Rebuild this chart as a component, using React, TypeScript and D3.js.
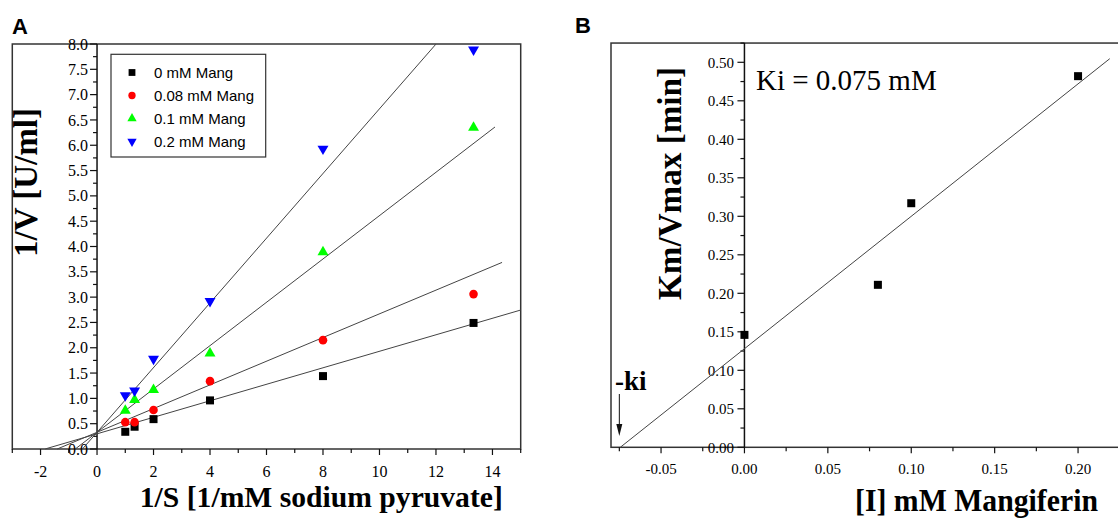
import React from "react";
import * as d3 from "d3";

// ---- panel A: Lineweaver-Burk plot ----
const invS = [1, 1.33, 2, 4, 8, 13.33];
const seriesNames = ["0 mM Mang", "0.08 mM Mang", "0.1 mM Mang", "0.2 mM Mang"];
const seriesColors = ["#000000", "#ff0000", "#00ff00", "#0000ff"];
const seriesShapes = ["square", "circle", "up", "down"];
const invV0 = [0.34, 0.44, 0.59, 0.96, 1.44, 2.49];
const invV008 = [0.53, 0.53, 0.77, 1.34, 2.15, 3.06];
const invV01 = [0.76, 0.97, 1.17, 1.89, 3.89, 6.35];
const invV02 = [1.06, 1.15, 1.78, 2.92, 5.93, 7.89];
const seriesValues = [invV0, invV008, invV01, invV02];
// fitted lines: intercept, slope, drawn x range
const fitIntercept = [0.3, 0.33, 0.33, 0.33];
const fitSlope = [0.163, 0.234, 0.428, 0.639];
const fitFrom = [-1.83, -1.41, -0.77, -0.52];
const fitTo = [15, 14.34, 14.09, 12.0];
const xTicksA = [-2, 0, 2, 4, 6, 8, 10, 12, 14];
const xMinorA = d3.range(-3, 15.5, 1);
const yTicksA = d3.range(0, 8.01, 0.5);
const yMinorA = d3.range(0, 8.01, 0.25);

// ---- panel B: secondary plot ----
const inhib = [0, 0.08, 0.1, 0.2];
const kmVmax = [0.146, 0.211, 0.317, 0.482];
const fitB = { intercept: 0.128, slope: 1.72, from: -0.0744, to: 0.219 };
const xTicksB = [-0.05, 0, 0.05, 0.1, 0.15, 0.2];
const xMinorB = [-0.075, -0.025, 0.025, 0.075, 0.125, 0.175, 0.225];
const yTicksB = d3.range(0, 0.501, 0.05);
const yMinorB = d3.range(0.025, 0.526, 0.05);

const serif = { fontFamily: "Liberation Serif, Times New Roman, serif" };
const sans = { fontFamily: "Liberation Sans, Arial, sans-serif" };

function Marker({ shape, color, x, y, s = 1 }: any) {
  if (shape === "square")
    return <rect x={x - 4 * s} y={y - 4 * s} width={8 * s} height={8 * s} fill={color} />;
  if (shape === "circle") return <circle cx={x} cy={y} r={4.3 * s} fill={color} />;
  const p = d3.symbol(d3.symbolTriangle, 52 * s * s)();
  return (
    <path d={p!} fill={color} transform={`translate(${x},${y})${shape === "down" ? " rotate(180)" : ""}`} />
  );
}

export default function App() {
  const xA = d3.scaleLinear().domain([-3, 15]).range([12.3, 520.7]);
  const yA = d3.scaleLinear().domain([0, 8]).range([449, 44]);
  const xB = d3.scaleLinear().domain([-0.08, 0.23]).range([611, 1128.1]);
  const yB = d3.scaleLinear().domain([0, 0.525]).range([447.3, 43.05]);
  const fmt1 = d3.format(".1f");
  const fmt2 = (v: number) => d3.format(".2f")(v).replace("\u2212", "-");
  const line = d3.line<[number, number]>();

  const x0A = xA(0);
  const x0B = xB(0);

  return (
    <svg width={1118} height={525} style={{ position: "absolute", left: 0, top: 0, background: "#fff" }}>
      {/* ---------- Panel A ---------- */}
      <text x={12} y={34} style={sans} fontWeight="bold" fontSize={22}>A</text>
      <rect x={xA(-3)} y={yA(8)} width={xA(15) - xA(-3)} height={yA(0) - yA(8)} fill="none" stroke="#333" strokeWidth={1.5} />
      <line x1={x0A} x2={x0A} y1={yA(0)} y2={yA(8)} stroke="#111" strokeWidth={1.5} />
      {xMinorA.map((t) => (
        <line key={"xm" + t} x1={xA(t)} x2={xA(t)} y1={yA(0)} y2={yA(0) + (t % 2 === 0 ? 6 : 4)} stroke="#111" strokeWidth={1.2} />
      ))}
      {xTicksA.map((t) => (
        <text key={"xt" + t} x={xA(t)} y={477} textAnchor="middle" style={serif} fontSize={16}>{t}</text>
      ))}
      {yMinorA.map((t) => (
        <line key={"ym" + t} x1={x0A} x2={x0A - (Math.round(t * 4) % 2 === 0 ? 7 : 4)} y1={yA(t)} y2={yA(t)} stroke="#111" strokeWidth={1.2} />
      ))}
      {yTicksA.map((t) => (
        <text key={"yt" + t} x={88} y={yA(t)} dy="0.35em" textAnchor="end" style={serif} fontSize={16}>{fmt1(t)}</text>
      ))}
      {fitSlope.map((m, i) => (
        <path key={"fit" + i} fill="none" stroke="#444" strokeWidth={1}
          d={line([[xA(fitFrom[i]), yA(fitIntercept[i] + m * fitFrom[i])], [xA(fitTo[i]), yA(fitIntercept[i] + m * fitTo[i])]])!} />
      ))}
      {seriesValues.map((vals, i) =>
        vals.map((v, j) => (
          <Marker key={"m" + i + "-" + j} shape={seriesShapes[i]} color={seriesColors[i]} x={xA(invS[j])} y={yA(v)} />
        ))
      )}
      <rect x={111} y={54.3} width={154.7} height={102.7} fill="#fff" stroke="#333" strokeWidth={1.2} />
      {seriesNames.map((n, i) => (
        <g key={"lg" + i}>
          <Marker shape={seriesShapes[i]} color={seriesColors[i]} x={132} y={72.5 + i * 23} s={0.85} />
          <text x={154} y={72.5 + i * 23} dy="0.36em" style={sans} fontSize={15}>{n}</text>
        </g>
      ))}
      <text transform="translate(37,182.5) rotate(-90)" textAnchor="middle" style={serif} fontWeight="bold" fontSize={33}
        textLength={149} lengthAdjust="spacingAndGlyphs">1/V [U/ml]</text>
      <text x={321.3} y={506.5} textAnchor="middle" style={serif} fontWeight="bold" fontSize={29}
        textLength={363} lengthAdjust="spacingAndGlyphs">1/S [1/mM sodium pyruvate]</text>

      {/* ---------- Panel B ---------- */}
      <text x={575} y={33} style={sans} fontWeight="bold" fontSize={22}>B</text>
      <rect x={xB(-0.08)} y={yB(0.525)} width={xB(0.23) - xB(-0.08)} height={yB(0) - yB(0.525)} fill="none" stroke="#333" strokeWidth={1.5} />
      <line x1={x0B} x2={x0B} y1={yB(0)} y2={yB(0.525)} stroke="#111" strokeWidth={1.5} />
      {xTicksB.map((t) => (
        <g key={"bx" + t}>
          <line x1={xB(t)} x2={xB(t)} y1={yB(0)} y2={yB(0) + 6} stroke="#111" strokeWidth={1.2} />
          <text x={xB(t)} y={474} textAnchor="middle" style={serif} fontSize={15}>{fmt2(t)}</text>
        </g>
      ))}
      {xMinorB.map((t) => (
        <line key={"bxm" + t} x1={xB(t)} x2={xB(t)} y1={yB(0)} y2={yB(0) + 4} stroke="#111" strokeWidth={1.2} />
      ))}
      {yTicksB.map((t) => (
        <g key={"by" + t}>
          <line x1={x0B} x2={x0B - 7} y1={yB(t)} y2={yB(t)} stroke="#111" strokeWidth={1.2} />
          <text x={734} y={yB(t)} dy="0.35em" textAnchor="end" style={serif} fontSize={15}>{fmt2(t)}</text>
        </g>
      ))}
      {yMinorB.map((t) => (
        <line key={"bym" + t} x1={x0B} x2={x0B - 4} y1={yB(t)} y2={yB(t)} stroke="#111" strokeWidth={1.2} />
      ))}
      <path fill="none" stroke="#444" strokeWidth={1}
        d={line([[xB(fitB.from), yB(fitB.intercept + fitB.slope * fitB.from)], [xB(fitB.to), yB(fitB.intercept + fitB.slope * fitB.to)]])!} />
      {inhib.map((c, i) => (
        <rect key={"bp" + i} x={xB(c) - 4} y={yB(kmVmax[i]) - 4} width={8} height={8} fill="#000" />
      ))}
      <text x={756} y={90} style={serif} fontSize={29}>Ki = 0.075 mM</text>
      <text x={615} y={390} style={serif} fontWeight="bold" fontSize={27}>-ki</text>
      <line x1={xB(-0.075)} x2={xB(-0.075)} y1={394} y2={426} stroke="#111" strokeWidth={1} />
      <path d={`M${xB(-0.075) - 3},${424} L${xB(-0.075) + 3},${424} L${xB(-0.075)},${436} Z`} fill="#111" />
      <text transform="translate(681,183.5) rotate(-90)" textAnchor="middle" style={serif} fontWeight="bold" fontSize={33}
        textLength={233} lengthAdjust="spacingAndGlyphs">Km/Vmax [min]</text>
      <text x={976.5} y={511} textAnchor="middle" style={serif} fontWeight="bold" fontSize={31}
        textLength={243} lengthAdjust="spacingAndGlyphs">[I] mM Mangiferin</text>
    </svg>
  );
}
